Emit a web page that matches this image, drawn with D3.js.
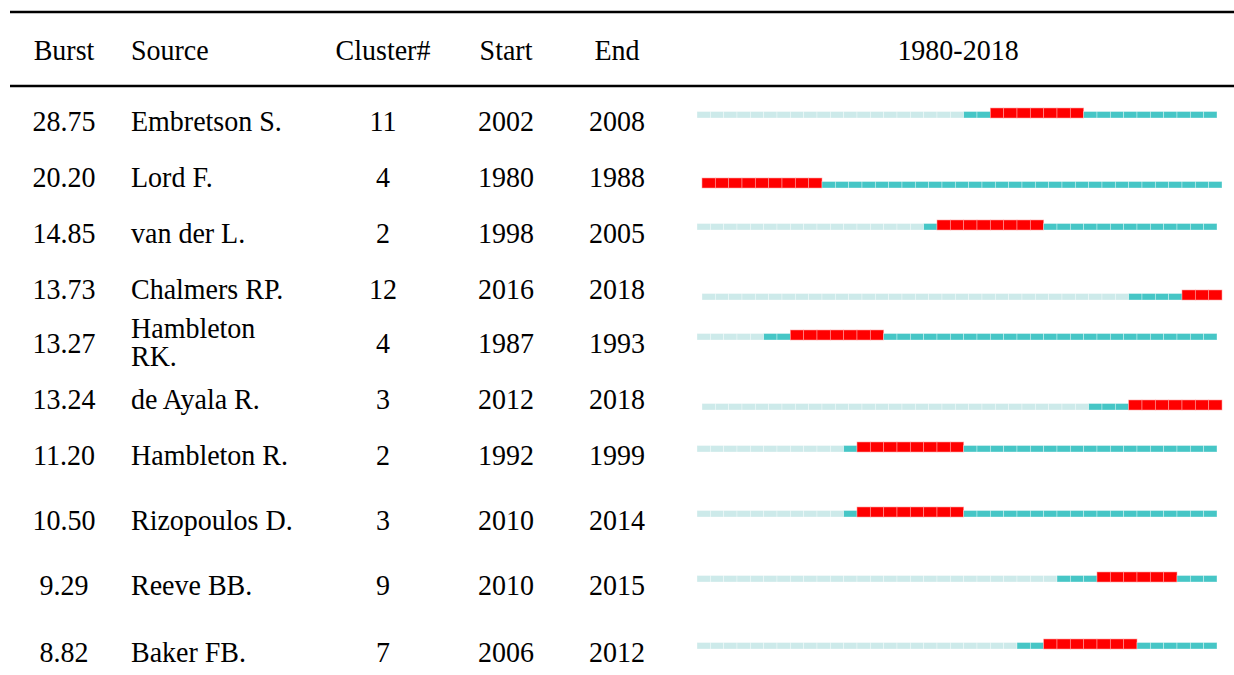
<!DOCTYPE html>
<html><head><meta charset="utf-8">
<script src="https://cdn.jsdelivr.net/npm/d3@7"></script>
<style>html,body{margin:0;padding:0;background:#fff;}svg{display:block;}</style>
</head><body>
<script>
// ---- data ----
const bursts   = ["28.75","20.20","14.85","13.73","13.27","13.24","11.20","10.50","9.29","8.82"];
const sources  = ["Embretson S.","Lord F.","van der L.","Chalmers RP.","Hambleton\nRK.","de Ayala R.","Hambleton R.","Rizopoulos D.","Reeve BB.","Baker FB."];
const clusters = [11,4,2,12,4,3,2,3,9,7];
const starts   = [2002,1980,1998,2016,1987,2012,1992,2010,2010,2006];
const ends     = [2008,1988,2005,2018,1993,2018,1999,2014,2015,2012];
// bars as drawn in the picture: first cited year, burst from, burst to
const barFirst = [2000,1980,1997,2012,1985,2009,1991,1991,2007,2004];
const barFrom  = [2002,1980,1998,2016,1987,2012,1992,1992,2010,2006];
const barTo    = [2008,1988,2005,2018,1993,2018,1999,1999,2015,2012];
const years = d3.range(1980, 2019);
const headers = ["Burst","Source","Cluster#","Start","End","1980-2018"];

// ---- layout ----
const W = 1234, H = 675;
const rowCenters = [121,177,233,289,343,399,455,520,585,652];
const svg = d3.select("body").append("svg").attr("width", W).attr("height", H);
const font = "'Liberation Serif','Times New Roman',serif";
const fs = 28;
const yearX = d3.scaleBand().domain(years).range([697, 1217]).padding(0);

function txt(x, y, s, anchor) {
  const g = svg.append("g").attr("transform", `translate(${x},${y}) scale(1,1.04)`);
  g.append("text").attr("x", 0).attr("y", 0).attr("dy", "0.35em")
    .attr("text-anchor", anchor).attr("font-family", font).attr("font-size", fs)
    .attr("fill", "#000").text(s);
}

// rules
svg.append("line").attr("x1", 10).attr("x2", W).attr("y1", 12).attr("y2", 12).attr("stroke", "#000").attr("stroke-width", 2.5);
svg.append("line").attr("x1", 10).attr("x2", W).attr("y1", 86).attr("y2", 86).attr("stroke", "#000").attr("stroke-width", 2.5);

// header
const colX = [64, 131, 383, 506, 617, 958];
const colA = ["middle","start","middle","middle","middle","middle"];
headers.forEach((h, i) => txt(colX[i], 50, h, colA[i]));

// rows
bursts.forEach((b, i) => {
  const cy = rowCenters[i];
  txt(colX[0], cy, b, "middle");
  const lines = sources[i].split("\n");
  if (lines.length === 1) txt(colX[1], cy, lines[0], "start");
  else { txt(colX[1], cy - 15, lines[0], "start"); txt(colX[1], cy + 13, lines[1], "start"); }
  txt(colX[2], cy, String(clusters[i]), "middle");
  txt(colX[3], cy, String(starts[i]), "middle");
  txt(colX[4], cy, String(ends[i]), "middle");

  // bar
  const shifted = (barFrom[i] === 1980 || barTo[i] === 2018);
  const dx = shifted ? 5 : 0;
  const bottom = cy - 3 + (shifted ? 14 : 0);
  const g = svg.append("g").attr("transform", `translate(${dx},0)`);
  years.forEach(yr => {
    let fill, h;
    if (yr >= barFrom[i] && yr <= barTo[i]) { fill = "#ff0000"; h = 10; }
    else if (yr >= barFirst[i]) { fill = "#46c6c6"; h = 6.5; }
    else { fill = "#cdeaea"; h = 6.5; }
    g.append("rect").attr("x", yearX(yr)).attr("y", bottom - h)
      .attr("width", yearX.bandwidth()).attr("height", h)
      .attr("fill", fill)
      .attr("stroke", fill === "#ff0000" ? "rgba(255,160,160,0.8)" : "rgba(255,255,255,0.5)")
      .attr("stroke-width", 0.7);
  });
});
</script>
</body></html>
